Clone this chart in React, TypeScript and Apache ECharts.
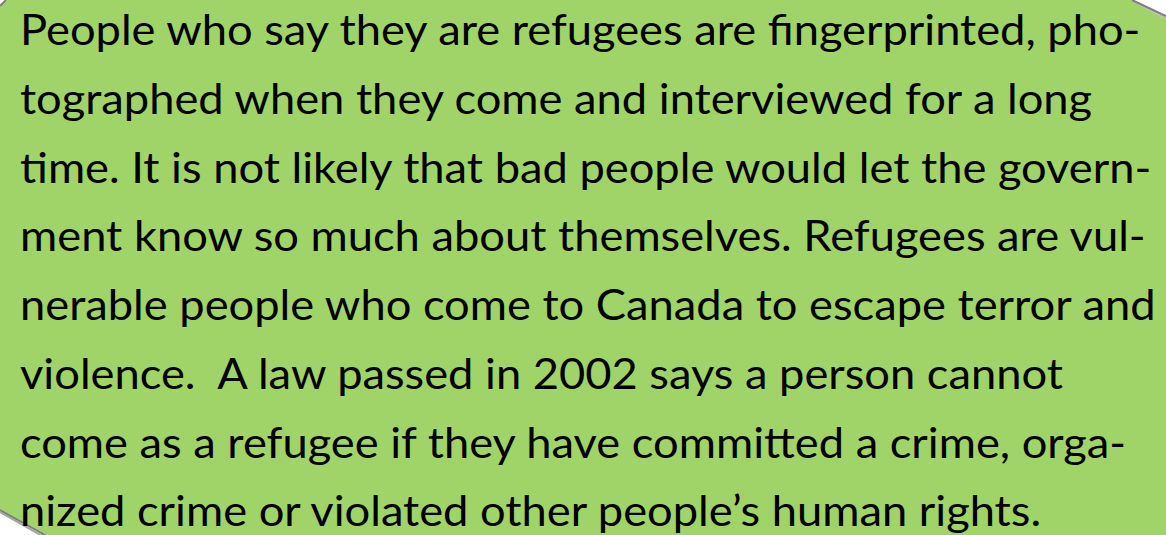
import React, { useEffect, useRef } from "react";
import * as echarts from "echarts";

const lines: string[] = [
  "People who say they are refugees are fingerprinted, pho-",
  "tographed when they come and interviewed for a long",
  "time. It is not likely that bad people would let the govern-",
  "ment know so much about themselves. Refugees are vul-",
  "nerable people who come to Canada to escape terror and",
  "violence.  A law passed in 2002 says a person cannot",
  "come as a refugee if they have committed a crime, orga-",
  "nized crime or violated other people\u2019s human rights.",
];

const W = 1166;
const H = 535;
const FONT_FAMILY = "Lato";
const FONT_SIZE = 42;
const LEFT = 20;
const FIRST_BASELINE = 45;
const BASELINE_OFFSET = 37;
const LINE_STEP = 68.7;
const REF_LINE = 4;
const REF_RIGHT = 1158;

export default function App() {
  const ref = useRef<HTMLDivElement>(null);
  useEffect(() => {
    if (!ref.current) return;
    const chart = echarts.init(ref.current, undefined, { renderer: "svg" });
    const font = `${FONT_SIZE}px ${FONT_FAMILY}`;
    const cvs = document.createElement("canvas");
    const ctx = cvs.getContext("2d")!;
    ctx.font = font;
    const refW = ctx.measureText(lines[REF_LINE]).width;
    const sx = (REF_RIGHT - LEFT) / refW;

    const fill = "#A0D468";
    const border = "#7F7F7F";
    const textEls = lines.map((t, i) => ({
      type: "text",
      x: LEFT,
      y: FIRST_BASELINE - BASELINE_OFFSET + i * LINE_STEP,
      scaleX: sx,
      style: {
        text: t,
        x: 0,
        y: 0,
        font,
        fill: "#000000",
        textVerticalAlign: "top",
        textAlign: "left",
      },
    }));

    chart.setOption({
      animation: false,
      backgroundColor: "#ffffff",
      graphic: [
        {
          type: "polygon",
          shape: {
            points: [
              [6, 0],
              [1133, 0],
              [1166, 17],
              [1166, 535],
              [45, 535],
              [0, 510],
              [0, 6],
            ],
          },
          style: { fill, stroke: "none" },
        },
        {
          type: "line",
          shape: { x1: 1133, y1: 1, x2: 1166, y2: 18 },
          style: { stroke: "#BFBFBF", lineWidth: 2 },
        },
        {
          type: "line",
          shape: { x1: 1132, y1: 0, x2: 1166, y2: 16 },
          style: { stroke: border, lineWidth: 2 },
        },
        {
          type: "line",
          shape: { x1: 0, y1: 512, x2: 44, y2: 537 },
          style: { stroke: "#A6A6A6", lineWidth: 2 },
        },
        {
          type: "line",
          shape: { x1: 0, y1: 510, x2: 45, y2: 535 },
          style: { stroke: border, lineWidth: 2 },
        },
        {
          type: "line",
          shape: { x1: 0, y1: 6, x2: 6, y2: 0 },
          style: { stroke: border, lineWidth: 2 },
        },
        ...textEls,
      ],
    });
    return () => chart.dispose();
  }, []);
  return (
    <div
      ref={ref}
      style={{ position: "absolute", left: 0, top: 0, width: W, height: H }}
    />
  );
}
